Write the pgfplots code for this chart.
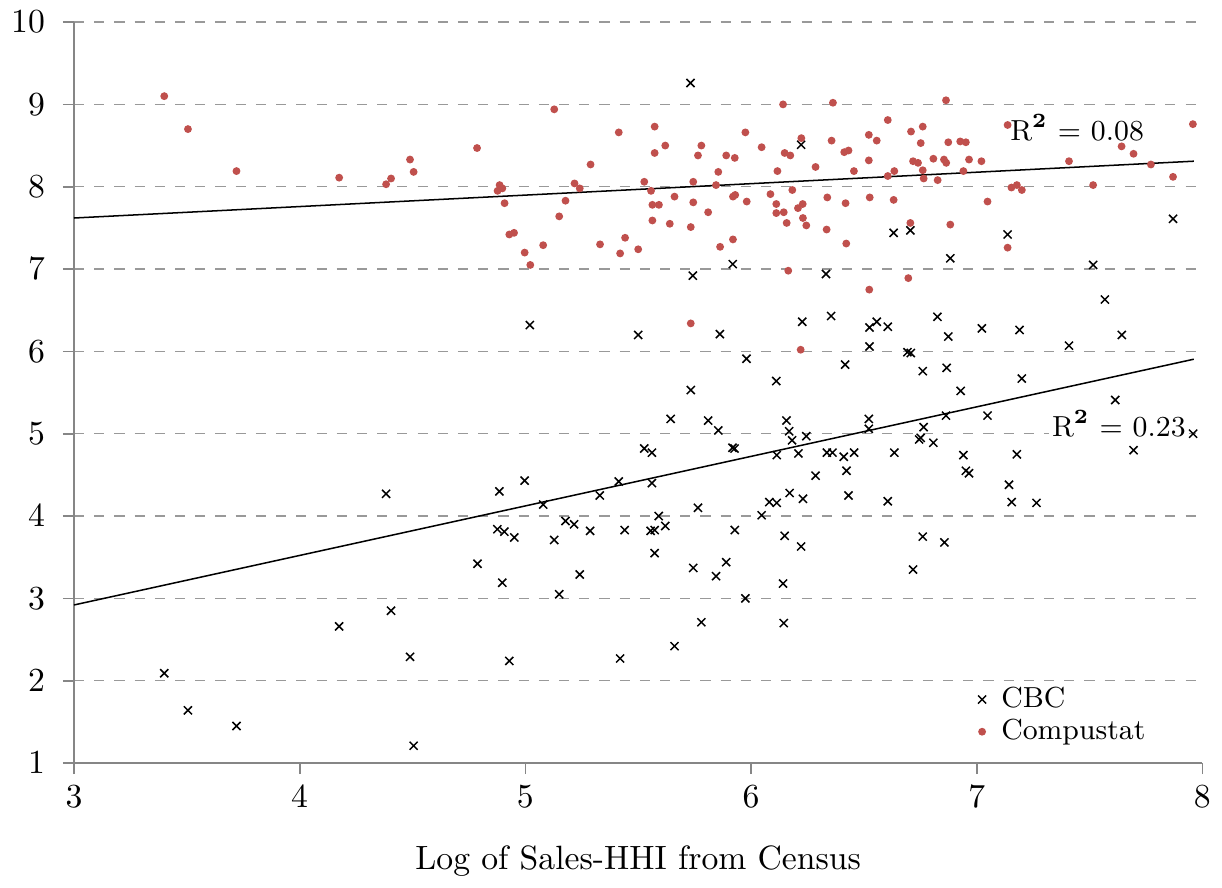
\documentclass[border=0pt]{standalone}
\usepackage{pgfplots}
\pgfplotsset{compat=1.18}
\definecolor{cred}{RGB}{192,80,77}
\definecolor{axgray}{RGB}{134,134,134}
\begin{document}
\begin{tikzpicture}
\begin{axis}[
  scale only axis,
  width=335pt, height=220pt,
  xmin=3, xmax=8, ymin=1, ymax=10,
  xtick={3,4,5,6,7,8}, ytick={1,2,3,4,5,6,7,8,9,10},
  axis x line*=bottom, axis y line*=left,
  axis line style={axgray, line width=0.7pt},
  tick align=outside,
  major tick length=3.3pt,
  tick style={axgray, line width=0.5pt},
  yticklabel style={xshift=-1.8pt},
  ymajorgrids,
  major grid style={gray!80, dashed, line width=0.35pt},
  xlabel={Log of Sales-HHI from Census},
  xlabel style={yshift=-4.5pt},
  legend style={draw=none, fill=none, at={(0.965,0.006)}, anchor=south east, row sep=-2pt, column sep=2.5pt, font=\fontsize{8.6}{10}\selectfont},
  legend cell align=left,
  clip=false,
]
\addplot[only marks, mark=x, mark size=1.7pt, black, line width=0.45pt] coordinates {
(3.40,2.09) (3.505,1.64) (3.72,1.45) (4.175,2.66) (4.383,4.27) (4.405,2.85) (4.489,2.29) (4.505,1.21)
(4.788,3.42) (4.876,3.84) (4.885,4.30) (4.898,3.19) (4.907,3.81) (4.929,2.24) (4.951,3.74) (4.997,4.43)
(5.02,6.32) (5.079,4.14) (5.128,3.71) (5.15,3.05) (5.178,3.94) (5.216,3.90) (5.241,3.29) (5.287,3.82)
(5.33,4.25) (5.414,4.42) (5.42,2.27) (5.44,3.83) (5.50,6.20) (5.527,4.82) (5.555,3.82) (5.561,4.77)
(5.561,4.40) (5.573,3.83) (5.573,3.55) (5.591,4.00) (5.62,3.88) (5.644,5.18) (5.661,2.42) (5.732,9.26)
(5.733,5.53) (5.742,6.92) (5.744,3.37) (5.765,4.10) (5.78,2.71) (5.81,5.16) (5.845,3.27) (5.855,5.04)
(5.862,6.21) (5.89,3.44) (5.918,4.83) (5.927,4.82) (5.919,7.06) (5.928,3.83) (5.975,3.00) (5.98,5.91)
(6.047,4.01) (6.081,4.17) (6.112,5.64) (6.114,4.74) (6.114,4.16) (6.142,3.18) (6.145,2.70) (6.149,3.76)
(6.157,5.16) (6.169,5.03) (6.171,4.28) (6.182,4.92) (6.21,4.76) (6.222,8.51) (6.222,3.63) (6.227,6.36)
(6.23,4.21) (6.245,4.97) (6.286,4.49) (6.332,6.94) (6.336,4.77) (6.355,6.43) (6.361,4.77) (6.411,4.72)
(6.417,5.84) (6.423,4.55) (6.432,4.25) (6.457,4.77) (6.522,5.18) (6.522,5.06) (6.525,6.29) (6.525,6.06)
(6.557,6.36) (6.606,6.30) (6.606,4.18) (6.632,7.44) (6.635,4.77) (6.693,5.99) (6.706,7.47) (6.708,5.98)
(6.718,3.35) (6.745,4.93) (6.752,4.95) (6.761,5.76) (6.761,3.75) (6.765,5.08) (6.808,4.89) (6.826,6.42)
(6.857,3.68) (6.864,5.22) (6.867,5.80) (6.874,6.18) (6.883,7.13) (6.929,5.52) (6.941,4.74) (6.952,4.55)
(6.966,4.52) (7.023,6.28) (7.048,5.22) (7.137,7.42) (7.143,4.38) (7.155,4.17) (7.178,4.75) (7.19,6.26)
(7.20,5.67) (7.265,4.16) (7.409,6.07) (7.516,7.05) (7.568,6.63) (7.614,5.41) (7.643,6.20) (7.695,4.80)
(7.87,7.61) (7.959,5.00)
};
\addlegendentry{CBC}
\addplot[only marks, mark=*, mark size=0.95pt, cred, mark options={draw=cred, fill=cred}] coordinates {
(3.40,9.10) (3.505,8.70) (3.72,8.19) (4.175,8.11) (4.383,8.03) (4.405,8.10) (4.489,8.33) (4.505,8.18)
(4.786,8.47) (4.877,7.95) (4.886,8.02) (4.898,7.98) (4.908,7.80) (4.929,7.42) (4.95,7.44) (4.997,7.20)
(5.022,7.05) (5.079,7.29) (5.128,8.94) (5.15,7.64) (5.178,7.83) (5.218,8.04) (5.241,7.98) (5.289,8.27)
(5.331,7.30) (5.414,8.66) (5.42,7.19) (5.442,7.38) (5.50,7.24) (5.527,8.06) (5.557,7.95) (5.563,7.78)
(5.563,7.59) (5.573,8.73) (5.573,8.41) (5.592,7.78) (5.62,8.50) (5.64,7.55) (5.661,7.88) (5.733,7.51)
(5.733,6.34) (5.744,8.06) (5.744,7.81) (5.765,8.38) (5.78,8.50) (5.81,7.69) (5.845,8.02) (5.855,8.18)
(5.863,7.27) (5.89,8.38) (5.92,7.88) (5.92,7.36) (5.928,8.35) (5.93,7.90) (5.975,8.66) (5.981,7.82)
(6.047,8.48) (6.086,7.91) (6.112,7.79) (6.112,7.68) (6.117,8.19) (6.142,9.00) (6.145,7.69) (6.149,8.41)
(6.158,7.56) (6.165,6.98) (6.174,8.38) (6.183,7.96) (6.208,7.74) (6.22,6.02) (6.223,8.59) (6.229,7.79)
(6.23,7.62) (6.245,7.53) (6.286,8.24) (6.335,7.48) (6.338,7.87) (6.357,8.56) (6.363,9.02) (6.413,8.42)
(6.419,7.80) (6.422,7.31) (6.432,8.44) (6.456,8.19) (6.522,8.63) (6.522,8.32) (6.524,6.75) (6.526,7.87)
(6.557,8.56) (6.606,8.81) (6.606,8.13) (6.632,7.84) (6.635,8.19) (6.697,6.89) (6.706,7.56) (6.709,8.67)
(6.718,8.31) (6.74,8.29) (6.752,8.53) (6.761,8.73) (6.761,8.20) (6.765,8.10) (6.808,8.34) (6.827,8.08)
(6.855,8.33) (6.864,9.05) (6.865,8.29) (6.874,8.54) (6.883,7.54) (6.927,8.55) (6.941,8.19) (6.952,8.54)
(6.966,8.33) (7.021,8.31) (7.048,7.82) (7.137,8.75) (7.137,7.26) (7.154,7.99) (7.178,8.02) (7.20,7.96)
(7.409,8.31) (7.516,8.02) (7.642,8.49) (7.695,8.40) (7.772,8.27) (7.87,8.12) (7.958,8.76)
};
\addlegendentry{Compustat}
\addplot[black, line width=0.45pt, forget plot] coordinates {(3,7.62) (7.962,8.31)};
\addplot[black, line width=0.45pt, forget plot] coordinates {(3,2.92) (7.962,5.905)};
\node[fill=white, inner sep=1pt, font=\fontsize{8.6}{10}\selectfont] at (axis cs:7.445,8.72) {R\textsuperscript{\textbf{2}} = 0.08};
\node[fill=white, inner sep=1pt, font=\fontsize{8.6}{10}\selectfont] at (axis cs:7.63,5.12) {R\textsuperscript{\textbf{2}} = 0.23};
\end{axis}
\end{tikzpicture}
\end{document}
